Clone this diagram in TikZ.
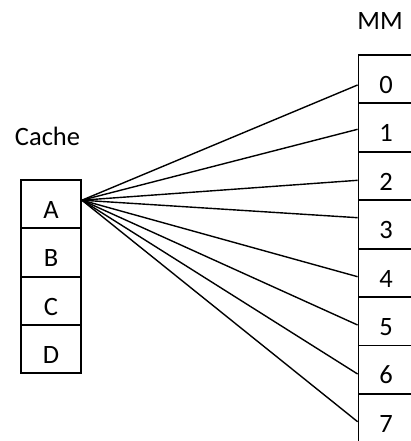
\documentclass[tikz,border=0pt]{standalone}
\usepackage{fontspec}
\setmainfont{Carlito}
\begin{document}
\begin{tikzpicture}[x=1pt,y=-1pt,
  cell/.style={draw=black,line width=1.8pt,minimum width=60pt,minimum height=48.3pt,inner sep=0pt,
    text height=28.6pt,text depth=0pt,font=\fontsize{26.5}{31}\selectfont},
  mcell/.style={cell,minimum width=55pt,minimum height=48.4pt},
  title/.style={anchor=base,inner sep=0pt,font=\fontsize{26.5}{31}\selectfont},
  link/.style={draw=black,line width=1.4pt}]
\useasboundingbox (0,0) rectangle (411,441);
\clip (0,0) rectangle (411,441);
\node[title] (mmlabel) at (380,29.5) {MM};
\node[title] (cachelabel) at (47.5,145) {Cache};
\node[cell] (ca) at (51,204.2) {A};
\node[cell] (cb) at (51,252.5) {B};
\node[cell] (cc) at (51,300.8) {C};
\node[cell] (cd) at (51,349.1) {D};
\node[mcell] (m0) at (386,79.2) {0};
\node[mcell] (m1) at (386,127.6) {1};
\node[mcell] (m2) at (386,176.0) {2};
\node[mcell] (m3) at (386,224.4) {3};
\node[mcell] (m4) at (386,272.8) {4};
\node[mcell] (m5) at (386,321.2) {5};
\node[mcell] (m6) at (386,369.6) {6};
\node[mcell] (m7) at (386,418.0) {7};
\coordinate (src) at ([yshift=4pt]ca.east);
\draw[link] (src) -- ([yshift=-5.8pt]m0.west);
\draw[link] (src) -- ([yshift=-1.7pt]m1.west);
\draw[link] (src) -- ([yshift=-4.3pt]m2.west);
\draw[link] (src) -- ([yshift=6.7pt]m3.west);
\draw[link] (src) -- ([yshift=-3.9pt]m4.west);
\draw[link] (src) -- ([yshift=-3.8pt]m5.west);
\draw[link] (src) -- ([yshift=-4.4pt]m6.west);
\draw[link] (src) -- ([yshift=-3.7pt]m7.west);
\end{tikzpicture}
\end{document}
